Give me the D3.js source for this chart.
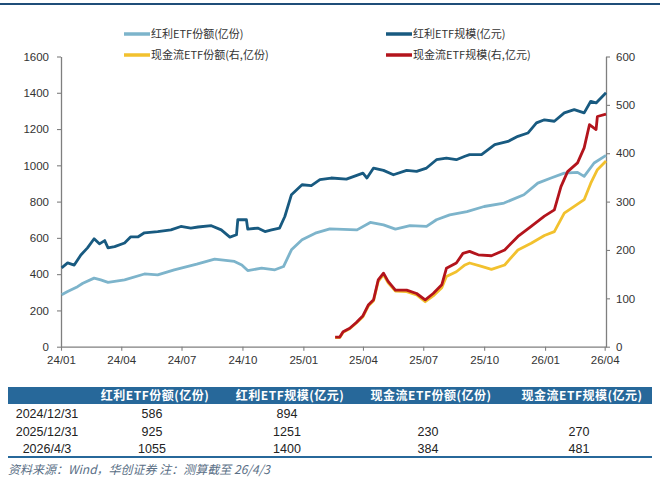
<!DOCTYPE html>
<html>
<head>
<meta charset="utf-8">
<script src="https://cdn.jsdelivr.net/npm/d3@7"></script>
<style>
  body { margin: 0; background: #fff; }
  svg { display: block; }
</style>
</head>
<body>
<div id="chart"></div>
<script>
// --- data ---
const divShare = [ // 红利ETF份额(亿份), left axis
  ["2024-01-02", 286], ["2024-01-11", 304], ["2024-01-26", 331], ["2024-02-03", 350],
  ["2024-02-20", 378], ["2024-03-01", 368], ["2024-03-12", 355], ["2024-04-06", 368],
  ["2024-05-06", 401], ["2024-05-26", 396], ["2024-06-20", 424], ["2024-07-24", 455],
  ["2024-08-20", 483], ["2024-09-19", 470], ["2024-09-30", 451], ["2024-10-09", 420],
  ["2024-10-30", 433], ["2024-11-19", 424], ["2024-12-02", 442], ["2024-12-14", 534],
  ["2024-12-30", 590], ["2025-01-19", 626], ["2025-02-10", 650], ["2025-03-23", 644],
  ["2025-04-12", 685], ["2025-05-02", 672], ["2025-05-20", 648], ["2025-06-11", 667],
  ["2025-07-06", 663], ["2025-07-21", 700], ["2025-08-10", 727], ["2025-09-05", 745],
  ["2025-10-01", 773], ["2025-10-31", 792], ["2025-11-30", 838], ["2025-12-21", 902],
  ["2026-01-10", 930], ["2026-01-30", 957], ["2026-02-19", 961], ["2026-03-01", 939],
  ["2026-03-16", 1013], ["2026-04-03", 1055]
];

const divScale = [ // 红利ETF规模(亿元), left axis
  ["2024-01-02", 435], ["2024-01-11", 462], ["2024-01-21", 450], ["2024-01-31", 506],
  ["2024-02-10", 545], ["2024-02-20", 595], ["2024-02-28", 567], ["2024-03-07", 585],
  ["2024-03-12", 545], ["2024-03-22", 552], ["2024-04-06", 572], ["2024-04-15", 605],
  ["2024-04-26", 605], ["2024-05-06", 628], ["2024-05-26", 635], ["2024-06-15", 644],
  ["2024-06-30", 663], ["2024-07-15", 654], ["2024-07-26", 660], ["2024-08-15", 667],
  ["2024-08-30", 644], ["2024-09-12", 604], ["2024-09-22", 617], ["2024-09-24", 700],
  ["2024-10-07", 700], ["2024-10-09", 648], ["2024-10-24", 654], ["2024-11-04", 635],
  ["2024-11-14", 644], ["2024-11-26", 654], ["2024-12-04", 718], ["2024-12-14", 838],
  ["2024-12-30", 893], ["2025-01-13", 888], ["2025-01-26", 921], ["2025-02-12", 930],
  ["2025-03-07", 924], ["2025-04-01", 957], ["2025-04-07", 930], ["2025-04-17", 985],
  ["2025-05-02", 972], ["2025-05-17", 948], ["2025-06-06", 972], ["2025-06-21", 967],
  ["2025-07-06", 985], ["2025-07-21", 1031], ["2025-08-05", 1040], ["2025-08-20", 1031],
  ["2025-09-02", 1050], ["2025-09-09", 1059], ["2025-09-27", 1059], ["2025-10-17", 1114],
  ["2025-11-06", 1132], ["2025-11-21", 1160], ["2025-12-06", 1178], ["2025-12-19", 1234],
  ["2025-12-31", 1251], ["2026-01-15", 1243], ["2026-01-30", 1289], ["2026-02-14", 1307],
  ["2026-03-01", 1289], ["2026-03-11", 1353], ["2026-03-19", 1344], ["2026-04-03", 1400]
];

const cashShare = [ // 现金流ETF份额(右,亿份)
  ["2025-02-18", 19], ["2025-02-25", 19], ["2025-03-02", 30], ["2025-03-12", 37],
  ["2025-03-22", 49], ["2025-04-01", 62], ["2025-04-09", 84], ["2025-04-17", 95],
  ["2025-04-24", 135], ["2025-05-02", 149], ["2025-05-09", 132], ["2025-05-20", 115],
  ["2025-06-06", 114], ["2025-06-21", 107], ["2025-07-04", 93], ["2025-07-16", 105],
  ["2025-07-29", 122], ["2025-08-05", 145], ["2025-08-20", 155], ["2025-09-02", 169],
  ["2025-09-09", 173], ["2025-09-27", 166], ["2025-10-12", 160], ["2025-11-01", 169],
  ["2025-11-21", 200], ["2025-12-11", 214], ["2025-12-31", 230], ["2026-01-15", 238],
  ["2026-01-30", 276], ["2026-02-14", 290], ["2026-03-01", 304], ["2026-03-11", 338],
  ["2026-03-21", 366], ["2026-04-03", 384]
];

const cashScale = [ // 现金流ETF规模(右,亿元)
  ["2025-02-18", 20], ["2025-02-25", 20], ["2025-03-02", 31], ["2025-03-12", 38],
  ["2025-03-22", 50], ["2025-04-01", 64], ["2025-04-09", 86], ["2025-04-17", 97],
  ["2025-04-24", 138], ["2025-05-02", 152], ["2025-05-09", 135], ["2025-05-20", 117],
  ["2025-06-06", 117], ["2025-06-21", 110], ["2025-07-04", 97], ["2025-07-16", 110],
  ["2025-07-29", 128], ["2025-08-05", 162], ["2025-08-20", 173], ["2025-08-30", 193],
  ["2025-09-09", 197], ["2025-09-22", 190], ["2025-10-12", 188], ["2025-11-01", 200],
  ["2025-11-21", 228], ["2025-12-11", 249], ["2025-12-31", 270], ["2026-01-15", 283],
  ["2026-01-25", 331], ["2026-02-04", 362], ["2026-02-19", 380], ["2026-03-01", 411],
  ["2026-03-09", 459], ["2026-03-19", 449], ["2026-03-21", 476], ["2026-04-03", 481]
];

const leftTicks = [0, 200, 400, 600, 800, 1000, 1200, 1400, 1600];
const rightTicks = [0, 100, 200, 300, 400, 500, 600];
const xTickDates = ["2024-01-01", "2024-04-01", "2024-07-01", "2024-10-01", "2025-01-01",
  "2025-04-01", "2025-07-01", "2025-10-01", "2026-01-01", "2026-04-01"];

const tableCols = ["红利ETF份额(亿份)", "红利ETF规模(亿元)", "现金流ETF份额(亿份)", "现金流ETF规模(亿元)"];
const tableDates = ["2024/12/31", "2025/12/31", "2026/4/3"];
const tableValues = [
  [586, 894, null, null],
  [925, 1251, 230, 270],
  [1055, 1400, 384, 481]
];
const sourceNote = "资料来源：Wind，华创证券  注：测算截至 26/4/3";

// --- chart ---
const W = 660, H = 484;
const parse = d3.timeParse("%Y-%m-%d");
const svg = d3.select("#chart").append("svg").attr("width", W).attr("height", H);

// top rule
svg.append("line").attr("x1", 0).attr("x2", W).attr("y1", 4).attr("y2", 4)
  .attr("stroke", "#1f4e79").attr("stroke-width", 2);

const x = d3.scaleTime()
  .domain([parse("2024-01-01"), parse("2026-04-03")])
  .range([61, 606]);
const yL = d3.scaleLinear().domain([0, 1600]).range([346.7, 56.5]);
const yR = d3.scaleLinear().domain([0, 600]).range([346.7, 56.5]);

const tickFont = "'Liberation Sans', Arial, sans-serif";

function styleAxis(g) {
  g.select(".domain").attr("stroke", "#7f7f7f").attr("stroke-width", 1.3);
  g.selectAll(".tick line").attr("stroke", "#7f7f7f").attr("stroke-width", 1.1);
  g.selectAll(".tick text").attr("fill", "#333").attr("font-size", 11.5)
    .attr("font-family", tickFont);
}

svg.append("g").attr("transform", "translate(61,0)")
  .call(d3.axisLeft(yL).tickValues(leftTicks).tickFormat(d3.format("d"))
    .tickSize(4).tickPadding(8).tickSizeOuter(0))
  .call(styleAxis);

svg.append("g").attr("transform", "translate(606,0)")
  .call(d3.axisRight(yR).tickValues(rightTicks).tickFormat(d3.format("d"))
    .tickSize(4).tickPadding(6).tickSizeOuter(0))
  .call(styleAxis);

svg.append("g").attr("transform", "translate(0,346.7)")
  .call(d3.axisBottom(x).tickValues(xTickDates.map(parse)).tickFormat(d3.timeFormat("%y/%m"))
    .tickSize(4).tickPadding(5).tickSizeOuter(0))
  .call(styleAxis);

const series = [
  {name: "红利ETF份额(亿份)", data: divShare, y: yL, color: "#7db4cb"},
  {name: "红利ETF规模(亿元)", data: divScale, y: yL, color: "#185a80"},
  {name: "现金流ETF份额(右,亿份)", data: cashShare, y: yR, color: "#f2c12e"},
  {name: "现金流ETF规模(右,亿元)", data: cashScale, y: yR, color: "#b3141c"}
];

series.forEach(s => {
  const line = d3.line()
    .x(d => x(parse(d[0])))
    .y(d => s.y(d[1]));
  svg.append("path")
    .datum(s.data)
    .attr("fill", "none")
    .attr("stroke", s.color)
    .attr("stroke-width", 2.8)
    .attr("stroke-linejoin", "round")
    .attr("d", line);
});

// legend
const legendPos = [[124, 34], [386, 34], [124, 55], [386, 55]];
series.forEach((s, i) => {
  const g = svg.append("g").attr("transform", `translate(${legendPos[i][0]},${legendPos[i][1]})`);
  g.append("line").attr("x1", 0).attr("x2", 26).attr("y1", 0).attr("y2", 0)
    .attr("stroke", s.color).attr("stroke-width", 3.5);
  g.append("text").attr("x", 27).attr("y", 4)
    .attr("font-family", "'Noto Sans CJK SC', sans-serif").attr("font-size", 11)
    .attr("fill", "#333").text(s.name);
});

// table (column centres follow the reference layout)
const colCentre = [155, 290, 431, 582];
svg.append("rect").attr("x", 8).attr("y", 387).attr("width", 644).attr("height", 17)
  .attr("fill", "#27689a");
svg.selectAll(".th").data(tableCols).enter().append("text")
  .attr("class", "th")
  .attr("x", (d, i) => colCentre[i]).attr("y", 400)
  .attr("text-anchor", "middle")
  .attr("font-family", "'Noto Sans CJK SC', sans-serif")
  .attr("font-weight", "bold").attr("font-size", 12).attr("letter-spacing", 0.5)
  .attr("fill", "#fff").text(d => d);

const rowY = d3.scalePoint().domain(tableDates).range([418, 453]);
tableDates.forEach((dt, r) => {
  svg.append("text").attr("x", 47).attr("y", rowY(dt))
    .attr("text-anchor", "middle").attr("font-family", tickFont).attr("font-size", 12.5)
    .attr("fill", "#222").text(dt);
  tableValues[r].forEach((v, c) => {
    if (v == null) return;
    svg.append("text").attr("x", colCentre[c] - 3).attr("y", rowY(dt))
      .attr("text-anchor", "middle").attr("font-family", tickFont).attr("font-size", 12.5)
      .attr("fill", "#222").text(v);
  });
});

svg.append("line").attr("x1", 8).attr("x2", 652).attr("y1", 457).attr("y2", 457)
  .attr("stroke", "#27689a").attr("stroke-width", 2);

svg.append("text").attr("x", 8).attr("y", 474)
  .attr("font-family", "'Noto Sans CJK SC', sans-serif").attr("font-style", "italic")
  .attr("font-size", 12).attr("fill", "#5a6f86").text(sourceNote);
</script>
</body>
</html>
